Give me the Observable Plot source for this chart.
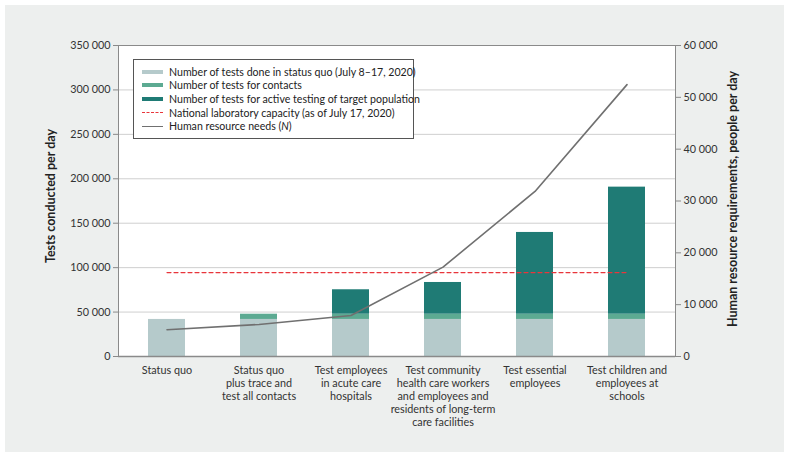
<!DOCTYPE html>
<html>
<head>
<meta charset="utf-8">
<script src="https://cdn.jsdelivr.net/npm/d3@7"></script>
<script src="https://cdn.jsdelivr.net/npm/@observablehq/plot@0.6"></script>
<style>
  html, body { margin: 0; padding: 0; background: #ffffff; }
  #wrap { position: relative; width: 791px; height: 459px; font-family: Lato, "Noto Sans", sans-serif; }
  #bg { position: absolute; left: 5px; top: 5px; width: 779px; height: 447px; background: #edefee; }
  #chart { position: absolute; left: 0; top: 0; }
  .ytitle { position: absolute; font-weight: bold; font-size: 12.5px; color: #222; white-space: nowrap; transform: translate(-50%, -50%) rotate(-90deg); }
  #legend { position: absolute; left: 133px; top: 59px; width: 281px; height: 80px; border: 1px solid #555; background: #fff; box-sizing: border-box; padding-top: 5px; }
  .lrow { display: flex; align-items: center; height: 13.6px; font-size: 10.6px; color: #222; white-space: nowrap; }
  .sw { width: 21px; margin-left: 8px; margin-right: 6px; flex: none; }
</style>
</head>
<body>
<div id="wrap">
  <div id="bg"></div>
  <div id="chart"></div>
  <div class="ytitle" style="left:50px; top:196px;">Tests conducted per day</div>
  <div class="ytitle" style="left:732px; top:199px;">Human resource requirements, people per day</div>
  <div id="legend"></div>
</div>
<script>
// ---- data ----
const categories = [
  "Status quo",
  "Status quo\nplus trace and\ntest all contacts",
  "Test employees\nin acute care\nhospitals",
  "Test community\nhealth care workers\nand employees and\nresidents of long-term\ncare facilities",
  "Test essential\nemployees",
  "Test children and\nemployees at\nschools"
];
const statusQuoTests = [41700, 41700, 41700, 41700, 41700, 41700];
const contactTests   = [0, 5900, 5900, 5900, 5900, 5900];
const activeTests    = [0, 0, 27500, 35700, 92000, 143000];
const humanResources = [5150, 6180, 7900, 17240, 31850, 52450];
const labCapacity = 94500;
const leftTicks  = [0, 50000, 100000, 150000, 200000, 250000, 300000, 350000];
const rightTicks = [0, 10000, 20000, 30000, 40000, 50000, 60000];
const seriesNames = [
  "Number of tests done in status quo (July 8\u201317, 2020)",
  "Number of tests for contacts",
  "Number of tests for active testing of target population",
  "National laboratory capacity (as of July 17, 2020)",
  "Human resource needs (<i>N</i>)"
];
const colors = ["#b5cacb", "#5caa92", "#1f7b75", "#e8353b", "#707070"];

// ---- derived ----
const leftMax = 350000, rightMax = 60000;
const k = leftMax / rightMax;
const fmt = d => d3.format(",")(d).replace(/,/g, "\u00a0");

const bars = [];
categories.forEach((c, i) => {
  bars.push({cat: c, series: 0, value: statusQuoTests[i]});
  bars.push({cat: c, series: 1, value: contactTests[i]});
  bars.push({cat: c, series: 2, value: activeTests[i]});
});
const hr = categories.map((c, i) => ({cat: c, y: humanResources[i] * k}));
const cap = [categories[0], categories[categories.length - 1]].map(c => ({cat: c, y: labCapacity}));

const chart = Plot.plot({
  width: 791,
  height: 459,
  marginLeft: 118,
  marginRight: 116,
  marginTop: 45,
  marginBottom: 103,
  style: {fontFamily: "Lato, 'Noto Sans', sans-serif", fontSize: "10.8px", color: "#333", background: "transparent", overflow: "visible"},
  x: {type: "band", domain: categories, paddingInner: 0.6, paddingOuter: 0.3, axis: null},
  y: {domain: [0, leftMax], axis: null},
  marks: [
    Plot.frame({fill: "white"}),
    Plot.gridY(leftTicks, {stroke: "#cfcfcf", strokeOpacity: 1}),
    Plot.barY(bars, {x: "cat", y: "value", fill: d => colors[d.series], order: "series"}),
    Plot.lineY(cap, {x: "cat", y: "y", stroke: colors[3], strokeDasharray: "4,3", strokeWidth: 1.2}),
    Plot.lineY(hr, {x: "cat", y: "y", stroke: colors[4], strokeWidth: 1.6}),
    Plot.frame({stroke: "#8a8a8a"}),
    Plot.ruleY([0], {stroke: "#8a8a8a", strokeWidth: 1.5}),
    Plot.axisY(leftTicks, {anchor: "left", tickSize: 5, tickPadding: 3, tickFormat: fmt, label: null, stroke: "#8a8a8a", fill: "#333"}),
    Plot.axisY(rightTicks.map(v => v * k), {anchor: "right", tickSize: 5, tickPadding: 3, tickFormat: d => fmt(Math.round(d / k)), label: null, stroke: "#8a8a8a", fill: "#333"}),
    Plot.axisX({anchor: "bottom", tickSize: 0, tickPadding: 8, label: null, lineHeight: 1.2, fill: "#333"})
  ]
});
document.getElementById("chart").appendChild(chart);

// legend
const leg = document.getElementById("legend");
seriesNames.forEach((name, i) => {
  const row = document.createElement("div");
  row.className = "lrow";
  let sw;
  if (i < 3) sw = `<div class="sw" style="height:4px;background:${colors[i]}"></div>`;
  else if (i === 3) sw = `<div class="sw" style="height:0;border-top:1.2px dashed ${colors[i]}"></div>`;
  else sw = `<div class="sw" style="height:0;border-top:1.5px solid ${colors[i]}"></div>`;
  row.innerHTML = sw + `<span>${name}</span>`;
  leg.appendChild(row);
});
</script>
</body>
</html>
